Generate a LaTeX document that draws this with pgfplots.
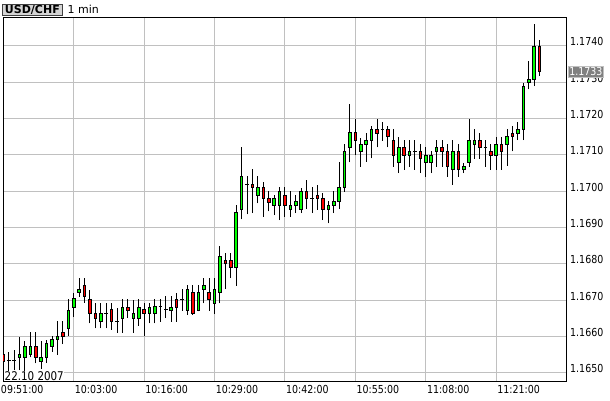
\documentclass[border=0pt]{standalone}
\usepackage{pgfplots}
\pgfplotsset{compat=1.18}
\usepackage{pgfplotstable}
\usepackage{fontspec}
\setmainfont{DejaVu Sans}
\newfontfamily\lblfont[FakeStretch=0.86]{DejaVu Sans}
\definecolor{upcol}{RGB}{0,255,0}
\definecolor{dncol}{RGB}{255,0,0}
\definecolor{gridcol}{RGB}{192,192,192}
\definecolor{pricebox}{RGB}{128,128,128}
\definecolor{titlebg}{RGB}{212,212,212}
\pgfdeclareplotmark{void}{}
\newdimen\cyo \newdimen\cyh \newdimen\cyl \newdimen\cyc

% one candle per point (placed at the open): wick l..h, body o..c
\makeatletter
\pgfplotsset{
  candles/.style={
    scatter, only marks, mark=void,
    visualization depends on={\thisrow{o} \as \candO},
    visualization depends on={\thisrow{h} \as \candH},
    visualization depends on={\thisrow{l} \as \candL},
    visualization depends on={\thisrow{c} \as \candC},
    scatter/@pre marker code/.append code={%
      \pgfplotspointaxisxy{0}{\candO}\cyo=\pgf@y
      \pgfplotspointaxisxy{0}{\candH}\cyh=\pgf@y
      \pgfplotspointaxisxy{0}{\candL}\cyl=\pgf@y
      \pgfplotspointaxisxy{0}{\candC}\cyc=\pgf@y
      \advance\cyh by -\cyo
      \advance\cyl by -\cyo
      \advance\cyc by -\cyo
      \draw[black, line width=1pt] (0pt,\cyl) -- (0pt,\cyh);
      \ifdim\cyc>0.01pt
        \filldraw[fill=upcol, draw=black, line width=1pt] (-1.3pt,0pt) rectangle (1.3pt,\cyc);
      \else\ifdim\cyc<-0.01pt
        \filldraw[fill=dncol, draw=black, line width=1pt] (-1.3pt,0pt) rectangle (1.3pt,\cyc);
      \else
        \draw[black, line width=1pt] (-1.8pt,0pt) -- (1.8pt,0pt);
      \fi\fi
    },
  },
}
\makeatother

% USD/CHF, 1 min candles, 22.10.2007 (i = candle index)
\pgfplotstableread{
i  o       h       l       c
0  1.16550 1.16563 1.16505 1.16531
1  1.16533 1.16558 1.16503 1.16533
2  1.16535 1.16562 1.16507 1.16535
3  1.16542 1.16599 1.16507 1.16550
4  1.16542 1.16587 1.16503 1.16571
5  1.16551 1.16611 1.16542 1.16571
6  1.16571 1.16611 1.16526 1.16542
7  1.16530 1.16587 1.16510 1.16542
8  1.16542 1.16590 1.16528 1.16581
9  1.16571 1.16601 1.16558 1.16592
10 1.16592 1.16642 1.16549 1.16601
11 1.16611 1.16642 1.16579 1.16601
12 1.16622 1.16702 1.16601 1.16672
13 1.16679 1.16720 1.16654 1.16703
14 1.16721 1.16760 1.16709 1.16730
15 1.16741 1.16760 1.16693 1.16711
16 1.16702 1.16729 1.16636 1.16662
17 1.16662 1.16691 1.16622 1.16650
18 1.16641 1.16691 1.16622 1.16662
19 1.16662 1.16691 1.16622 1.16662
20 1.16673 1.16691 1.16618 1.16641
21 1.16641 1.16677 1.16610 1.16641
22 1.16650 1.16702 1.16610 1.16680
23 1.16680 1.16702 1.16650 1.16671
24 1.16650 1.16700 1.16610 1.16662
25 1.16650 1.16702 1.16629 1.16680
26 1.16673 1.16693 1.16601 1.16662
27 1.16662 1.16693 1.16636 1.16680
28 1.16662 1.16702 1.16636 1.16681
29 1.16681 1.16702 1.16640 1.16681
30 1.16673 1.16711 1.16650 1.16673
31 1.16671 1.16711 1.16640 1.16680
32 1.16702 1.16719 1.16640 1.16680
33 1.16702 1.16730 1.16671 1.16702
34 1.16671 1.16741 1.16659 1.16730
35 1.16721 1.16741 1.16660 1.16662
36 1.16671 1.16741 1.16669 1.16721
37 1.16730 1.16761 1.16691 1.16741
38 1.16721 1.16761 1.16671 1.16702
39 1.16691 1.16761 1.16661 1.16730
40 1.16721 1.16850 1.16691 1.16821
41 1.16810 1.16830 1.16730 1.16801
42 1.16810 1.16830 1.16760 1.16790
43 1.16790 1.16961 1.16739 1.16940
44 1.16950 1.17122 1.16922 1.17041
45 1.17019 1.17041 1.16936 1.17019
46 1.17019 1.17061 1.16939 1.17010
47 1.16988 1.17041 1.16966 1.17010
48 1.17010 1.17025 1.16929 1.16980
49 1.16980 1.17000 1.16944 1.16968
50 1.16960 1.16990 1.16934 1.16980
51 1.16960 1.17010 1.16920 1.17000
52 1.16989 1.17010 1.16929 1.16960
53 1.16950 1.17000 1.16929 1.16961
54 1.16960 1.16990 1.16939 1.16970
55 1.16950 1.17009 1.16939 1.17000
56 1.17000 1.17030 1.16950 1.16980
57 1.16980 1.17010 1.16939 1.16980
58 1.16989 1.17018 1.16948 1.16980
59 1.16980 1.16995 1.16920 1.16950
60 1.16950 1.16972 1.16911 1.16960
61 1.16960 1.17000 1.16939 1.16970
62 1.16970 1.17081 1.16950 1.17010
63 1.17010 1.17129 1.16998 1.17110
64 1.17120 1.17239 1.17079 1.17160
65 1.17160 1.17198 1.17099 1.17140
66 1.17109 1.17145 1.17067 1.17129
67 1.17129 1.17159 1.17081 1.17140
68 1.17140 1.17180 1.17090 1.17170
69 1.17170 1.17197 1.17120 1.17159
70 1.17170 1.17190 1.17139 1.17170
71 1.17170 1.17180 1.17120 1.17149
72 1.17140 1.17170 1.17067 1.17099
73 1.17078 1.17148 1.17049 1.17120
74 1.17120 1.17140 1.17058 1.17099
75 1.17099 1.17140 1.17067 1.17109
76 1.17109 1.17140 1.17058 1.17109
77 1.17109 1.17129 1.17049 1.17089
78 1.17078 1.17120 1.17039 1.17099
79 1.17078 1.17110 1.17049 1.17099
80 1.17109 1.17140 1.17067 1.17120
81 1.17120 1.17140 1.17067 1.17109
82 1.17109 1.17129 1.17039 1.17067
83 1.17060 1.17140 1.17018 1.17109
84 1.17109 1.17129 1.17039 1.17060
85 1.17058 1.17078 1.17049 1.17068
86 1.17078 1.17198 1.17067 1.17140
87 1.17129 1.17170 1.17089 1.17140
88 1.17140 1.17160 1.17089 1.17120
89 1.17120 1.17140 1.17067 1.17120
90 1.17110 1.17129 1.17058 1.17099
91 1.17099 1.17149 1.17058 1.17129
92 1.17129 1.17149 1.17058 1.17108
93 1.17129 1.17170 1.17069 1.17150
94 1.17159 1.17180 1.17109 1.17149
95 1.17159 1.17191 1.17140 1.17170
96 1.17170 1.17298 1.17140 1.17287
97 1.17299 1.17359 1.17280 1.17307
98 1.17307 1.17460 1.17289 1.17399
99 1.17399 1.17417 1.17317 1.17328
}\ohlc

\begin{document}
\begin{tikzpicture}
\begin{axis}[
  at={(3pt,19pt)}, anchor=south west,
  scale only axis, width=563pt, height=364pt,
  xmin=-0.055, xmax=103.88,
  ymin=1.164772, ymax=1.17479,
  axis line style={black, line width=1pt},
  grid=major,
  major grid style={gridcol, line width=1pt},
  major tick length=0pt,
  xtick={0,13,26,39,52,65,78,91},
  xticklabels={\hspace*{-3.5pt}09:51:00,10:03:00,10:16:00,10:29:00,10:42:00,10:55:00,11:08:00,11:21:00},
  ytick={1.165,1.166,1.167,1.168,1.169,1.170,1.171,1.172,1.173,1.174},
  yticklabels={1.1650,1.1660,1.1670,1.1680,1.1690,1.1700,1.1710,1.1720,1.1730,1.1740},
  yticklabel pos=right,
  xticklabel style={anchor=north west, inner sep=0pt, yshift=-4pt, xshift=1pt,
    font=\lblfont\fontsize{11}{13}\selectfont},
  yticklabel style={anchor=base west, inner sep=0pt, xshift=4pt,
    font=\lblfont\fontsize{11}{13}\selectfont},
  clip marker paths=true,
]
\addplot[candles] table[x=i, y=o] {\ohlc};
\node[anchor=base west, fill=white, inner sep=0.5pt,
  font=\lblfont\fontsize{12}{14}\selectfont]
  at ([xshift=1pt,yshift=1pt]rel axis cs:0,0) {22.10 2007};
\coordinate (lastc) at (axis cs:99,1.17328);
\end{axis}
\node[anchor=west, xshift=2pt, fill=pricebox, draw=gridcol, line width=0.8pt,
  text=white, inner xsep=1pt, inner ysep=1.2pt,
  font=\lblfont\fontsize{11}{13}\selectfont]
  at (current axis.east |- lastc) {1.1733};
\node[anchor=north west, fill=titlebg, draw=black!75, line width=0.8pt,
  inner xsep=2.2pt, inner ysep=1pt, font=\fontsize{11}{13}\selectfont\bfseries]
  (ttl) at (2.4pt,396.4pt) {USD/CHF};
\node[anchor=base west, inner sep=0pt, font=\fontsize{11}{13}\selectfont]
  at ([xshift=5pt]ttl.base east) {1 min};
\pgfresetboundingbox
\path (0,0) rectangle (610pt,400pt);
\end{tikzpicture}
\end{document}
